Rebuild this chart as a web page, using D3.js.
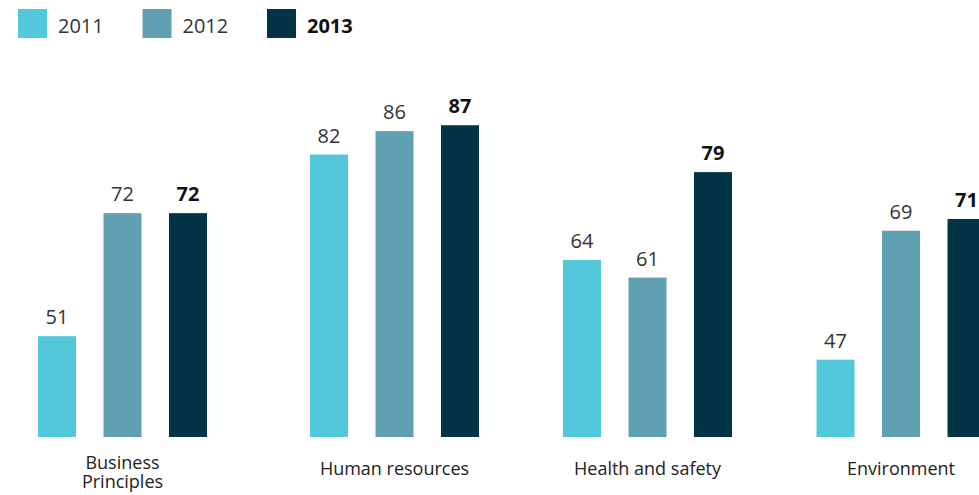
<!DOCTYPE html>
<html>
<head>
<meta charset="utf-8">
<script src="https://cdn.jsdelivr.net/npm/d3@7"></script>
<style>
  body { margin: 0; background: #fff; }
</style>
</head>
<body>
<div id="chart"></div>
<script>
const categories = ["Business\nPrinciples", "Human resources", "Health and safety", "Environment"]
const years = ["2011", "2012", "2013"]
const values2011 = [51, 82, 64, 47]
const values2012 = [72, 86, 61, 69]
const values2013 = [72, 87, 79, 71]

const seriesValues = [values2011, values2012, values2013]
const colors = ["#53c8db", "#60a0b2", "#023446"]

const width = 979
const height = 495
const baseline = 437
const font = "'Open Sans', sans-serif"

const svg = d3.select("#chart").append("svg")
  .attr("width", width)
  .attr("height", height)
  .attr("font-family", font)

// group centres (first gap is wider in the original)
const x0 = d3.scaleOrdinal()
  .domain(categories)
  .range([122.5, 394.5, 647.5, 901])

const x1 = d3.scaleBand()
  .domain(years)
  .range([-84.5, 84.5])
  .paddingInner(0.42)
  .paddingOuter(0)

const y = d3.scaleLinear()
  .domain([33.8, 100])
  .range([baseline, baseline - 5.86 * (100 - 33.8)])

const rows = categories.map((c, i) => ({
  category: c,
  bars: years.map((yr, j) => ({ year: yr, value: seriesValues[j][i], idx: j }))
}))

const group = svg.append("g").selectAll("g")
  .data(rows)
  .join("g")
  .attr("transform", d => `translate(${x0(d.category)},0)`)

group.selectAll("rect")
  .data(d => d.bars)
  .join("rect")
  .attr("x", d => x1(d.year))
  .attr("width", x1.bandwidth())
  .attr("y", d => y(d.value))
  .attr("height", d => baseline - y(d.value))
  .attr("fill", d => colors[d.idx])

group.selectAll("text.val")
  .data(d => d.bars)
  .join("text")
  .attr("class", "val")
  .attr("x", d => x1(d.year) + x1.bandwidth() / 2)
  .attr("y", d => y(d.value) - 12)
  .attr("text-anchor", "middle")
  .attr("font-size", 20)
  .attr("font-weight", d => d.idx === 2 ? "bold" : "normal")
  .attr("fill", d => d.idx === 2 ? "#111" : "#333")
  .text(d => d.value)

// category labels
group.append("text")
  .attr("text-anchor", "middle")
  .attr("font-size", 18)
  .attr("fill", "#222")
  .each(function (d) {
    const lines = d.category.split("\n")
    const t = d3.select(this)
    const start = lines.length > 1 ? 469 : 475
    lines.forEach((l, i) => {
      t.append("tspan")
        .attr("x", 0)
        .attr("y", start + i * 18.5)
        .text(l)
    })
  })

// legend
const legendX = d3.scalePoint().domain(years).range([18, 267])
const legend = svg.append("g").selectAll("g")
  .data(years)
  .join("g")
  .attr("transform", d => `translate(${legendX(d)},9)`)

legend.append("rect")
  .attr("width", 29)
  .attr("height", 29)
  .attr("fill", (d, i) => colors[i])

legend.append("text")
  .attr("x", 40)
  .attr("y", 23.5)
  .attr("font-size", 20)
  .attr("font-weight", (d, i) => i === 2 ? "bold" : "normal")
  .attr("fill", (d, i) => i === 2 ? "#111" : "#333")
  .text(d => d)
</script>
</body>
</html>
